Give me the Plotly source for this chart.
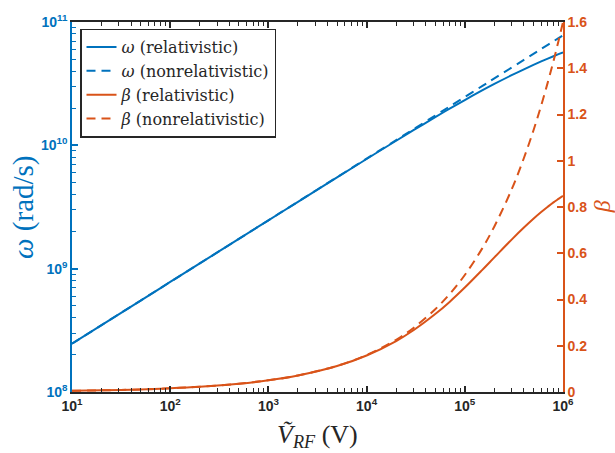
import plotly.graph_objects as go

# RF voltage amplitude (V)
v_rf = [10, 20, 50, 100, 200, 500, 1e3, 2e3, 5e3, 1e4, 2e4, 3e4, 5e4, 7e4,
        1e5, 1.5e5, 2e5, 3e5, 4e5, 5e5, 6e5, 7e5, 8e5, 9e5, 1e6]

# angular frequency (rad/s)
omega_rel = [2.467e8, 3.488e8, 5.515e8, 7.8e8, 1.103e9, 1.744e9, 2.466e9,
             3.483e9, 5.497e9, 7.75e9, 1.089e10, 1.326e10, 1.692e10, 1.981e10,
             2.330e10, 2.785e10, 3.146e10, 3.705e10, 4.136e10, 4.489e10,
             4.788e10, 5.048e10, 5.280e10, 5.489e10, 5.679e10]
omega_nonrel = [2.467e8, 3.488e8, 5.515e8, 7.8e8, 1.103e9, 1.744e9, 2.467e9,
                3.488e9, 5.515e9, 7.8e9, 1.103e10, 1.351e10, 1.744e10, 2.064e10,
                2.467e10, 3.021e10, 3.488e10, 4.272e10, 4.933e10, 5.515e10,
                6.042e10, 6.526e10, 6.977e10, 7.4e10, 7.8e10]

# velocity ratio v/c
beta_rel = [0.00506, 0.00716, 0.0113, 0.016, 0.0226, 0.0358, 0.0505, 0.0714,
            0.1123, 0.158, 0.2204, 0.267, 0.337, 0.3896, 0.4515, 0.527, 0.582,
            0.659, 0.711, 0.749, 0.778, 0.801, 0.820, 0.835, 0.848]
beta_nonrel = [0.00506, 0.00716, 0.0113, 0.016, 0.0226, 0.0358, 0.0506, 0.0716,
               0.113, 0.16, 0.226, 0.277, 0.358, 0.423, 0.506, 0.620, 0.716,
               0.876, 1.012, 1.131, 1.239, 1.339, 1.431, 1.518, 1.6]

# axis tick labels
x_ticks = [1e1, 1e2, 1e3, 1e4, 1e5, 1e6]
x_ticktext = ["<b>10<sup>1</sup></b>", "<b>10<sup>2</sup></b>", "<b>10<sup>3</sup></b>",
              "<b>10<sup>4</sup></b>", "<b>10<sup>5</sup></b>", "<b>10<sup>6</sup></b>"]
y_ticks = [1e8, 1e9, 1e10, 1e11]
y_ticktext = ["<b>10<sup>8</sup></b>", "<b>10<sup>9</sup></b>",
              "<b>10<sup>10</sup></b>", "<b>10<sup>11</sup></b>"]
beta_ticks = [0, 0.2, 0.4, 0.6, 0.8, 1, 1.2, 1.4, 1.6]
beta_ticktext = ["<b>0</b>", "<b>0.2</b>", "<b>0.4</b>", "<b>0.6</b>", "<b>0.8</b>",
                 "<b>1</b>", "<b>1.2</b>", "<b>1.4</b>", "<b>1.6</b>"]

BLUE = "#0072BD"
ORANGE = "#D95319"
DARK = "#262626"
SERIF = "DejaVu Serif"
SANS = "Liberation Sans"
DASH = "9px,6px"

fig = go.Figure()
fig.add_trace(go.Scatter(x=v_rf, y=omega_rel, mode="lines",
                         line=dict(color=BLUE, width=2, shape="spline"),
                         name="<i>ω</i> (relativistic)"))
fig.add_trace(go.Scatter(x=v_rf, y=omega_nonrel, mode="lines",
                         line=dict(color=BLUE, width=2, dash=DASH, shape="spline"),
                         name="<i>ω</i> (nonrelativistic)"))
fig.add_trace(go.Scatter(x=v_rf, y=beta_rel, mode="lines", yaxis="y2",
                         line=dict(color=ORANGE, width=2, shape="spline"),
                         name="<i>β</i> (relativistic)"))
fig.add_trace(go.Scatter(x=v_rf, y=beta_nonrel, mode="lines", yaxis="y2",
                         line=dict(color=ORANGE, width=2, dash=DASH, shape="spline"),
                         name="<i>β</i> (nonrelativistic)"))

fig.update_layout(
    width=615, height=453,
    margin=dict(l=72, r=52, t=12, b=61),
    paper_bgcolor="white", plot_bgcolor="rgba(0,0,0,0)",
    showlegend=True,
    legend=dict(x=0.0163, y=0.982, xanchor="left", yanchor="top",
                bgcolor="white", bordercolor=DARK, borderwidth=1.5,
                font=dict(family=SERIF, size=16, color=DARK),
                tracegroupgap=0, itemwidth=30),
    xaxis=dict(type="log", range=[1, 6], tickmode="array", tickvals=x_ticks, ticktext=x_ticktext,
               showgrid=False, zeroline=False, showline=True, linecolor=DARK, linewidth=1.5,
               mirror="ticks", ticks="inside", ticklen=6, tickwidth=1.6, tickcolor=DARK,
               minor=dict(dtick="D1", ticks="inside", ticklen=4, tickwidth=1.4,
                          tickcolor=DARK, showgrid=False),
               layer="above traces",
               tickfont=dict(family=SANS, size=14, color=DARK)),
    yaxis=dict(type="log", range=[8, 11], tickmode="array", tickvals=y_ticks, ticktext=y_ticktext,
               showgrid=False, zeroline=False, showline=True, linecolor=BLUE, linewidth=1.5,
               ticks="inside", ticklen=6, tickwidth=1.6, tickcolor=BLUE,
               minor=dict(dtick="D1", ticks="inside", ticklen=4, tickwidth=1.4,
                          tickcolor=BLUE, showgrid=False),
               layer="above traces",
               tickfont=dict(family=SANS, size=14, color=BLUE)),
    yaxis2=dict(overlaying="y", side="right", anchor="x", range=[0, 1.6], tickmode="array",
                tickvals=beta_ticks, ticktext=beta_ticktext,
                showgrid=False, zeroline=False, showline=True, linecolor=ORANGE, linewidth=1.5,
                ticks="inside", ticklen=6, tickwidth=1.6, tickcolor=ORANGE,
                layer="above traces",
                tickfont=dict(family=SANS, size=14, color=ORANGE)),
    annotations=[
        dict(text="<i>Ṽ</i><sub><i>RF</i></sub> (V)", xref="paper", yref="paper",
             x=0.5, y=-0.07, xanchor="center", yanchor="top", showarrow=False,
             font=dict(family="Liberation Serif", size=26, color=DARK)),
        dict(text="<i>ω</i> (rad/s)", xref="paper", yref="paper", textangle=-90,
             x=-0.1, y=0.5, xanchor="center", yanchor="middle", showarrow=False,
             font=dict(family="Liberation Serif", size=29, color=BLUE)),
        dict(text="<i>β</i>", xref="paper", yref="paper", textangle=-90,
             x=1.08, y=0.5, xanchor="center", yanchor="middle", showarrow=False,
             font=dict(family="Liberation Serif", size=24, color=ORANGE)),
    ],
)

fig.write_html("out.html")
